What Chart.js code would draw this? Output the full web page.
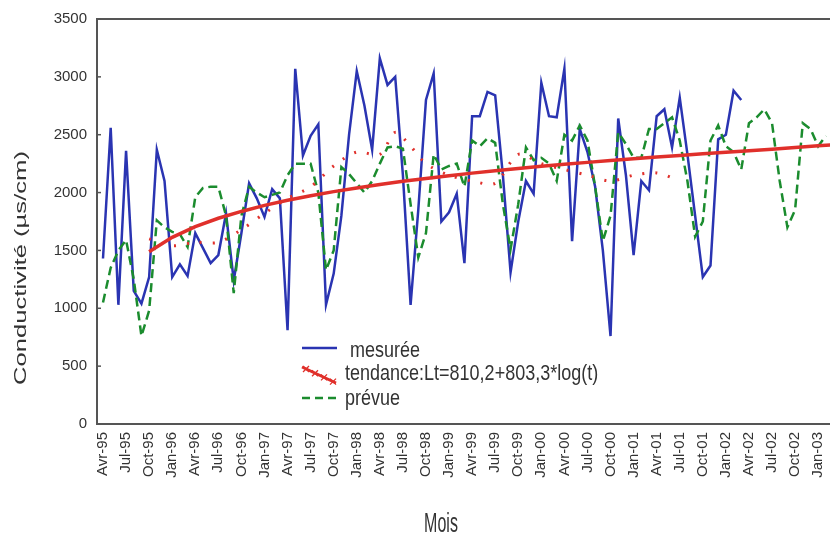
<!DOCTYPE html>
<html>
<head>
<meta charset="utf-8">
<script src="https://cdn.jsdelivr.net/npm/chart.js@4/dist/chart.umd.min.js"></script>
<style>
html,body{margin:0;padding:0;background:#fff;overflow:hidden}
#wrap{width:830px;height:541px;position:relative}
</style>
</head>
<body>
<div id="wrap"><canvas id="c"></canvas></div>
<script>
// ---- data (month index 0 = Avr-95) ----
const tickLabels = ['Avr-95','Jul-95','Oct-95','Jan-96','Avr-96','Jul-96','Oct-96','Jan-97','Avr-97','Jul-97','Oct-97','Jan-98','Avr-98','Jul-98','Oct-98','Jan-99','Avr-99','Jul-99','Oct-99','Jan-00','Avr-00','Jul-00','Oct-00','Jan-01','Avr-01','Jul-01','Oct-01','Jan-02','Avr-02','Jul-02','Oct-02','Jan-03'];
const yTicks = [0,500,1000,1500,2000,2500,3000,3500];

const measured = [1430,2560,1030,2360,1150,1040,1270,2370,2100,1270,
  1380,1280,1650,1520,1390,1460,1820,1240,1650,2080,
  1950,1790,2030,1950,810,3070,2320,2490,2590,1030,
  1300,1800,2500,3050,2750,2370,3160,2930,3000,2150,
  1030,1850,2800,3030,1750,1830,1990,1390,2660,2660,
  2870,2840,2150,1310,1750,2100,1990,2950,2660,2650,
  3070,1580,2550,2350,2050,1500,760,2640,2150,1460,
  2100,2020,2660,2720,2390,2820,2330,1800,1270,1370,
  2460,2500,2880,2800];

const forecast = [1050,1350,1500,1590,1250,760,980,1760,1700,1660,
  1640,1530,1960,2040,2050,2050,1800,1130,1800,2050,
  2000,1960,1980,2000,2150,2250,2250,2250,2000,1330,
  1500,2220,2160,2080,2000,2100,2250,2390,2400,2380,
  1900,1440,1650,2330,2200,2230,2250,2050,2450,2400,
  2470,2430,1900,1510,1900,2390,2280,2300,2250,2100,
  2500,2450,2580,2450,2050,1580,1800,2520,2420,2300,
  2300,2550,2550,2600,2650,2450,2100,1620,1750,2450,
  2580,2400,2350,2200,2600,2650,2720,2600,2100,1700,
  1850,2600,2550,2400,2490];

const trendMonths = [6,9,12,15,18,21,24,27,30,33,36,39,42,45,48,51,54,57,60,63,66,69,72,75,78,81,84,87,90,93,96];
const trendValues = [1489,1613,1705,1778,1837,1889,1933,1973,2008,2040,2070,2097,2122,2146,2168,2189,2208,2227,2244,2261,2277,2292,2307,2321,2335,2348,2362,2375,2390,2405,2418];

const seasonalMonths = [6,9,12,15,18,21,24,27,30,33,36,38,40,42,45,48,51,54,57,60,63,66,69,72,75];
const seasonalValues = [1600,1540,1570,1570,1680,1820,1950,2050,2230,2350,2330,2520,2400,2250,2150,2100,2080,2330,2250,2200,2150,2100,2150,2170,2100];

// ---- styles ----
const BLUE = '#2a34b2';
const GREEN = '#1b8c2e';
const RED = '#e0302b';
const TEXT = '#333333';
const FRAME = '#555555';
const FONT = '"Liberation Sans", Arial, sans-serif';

const pts = (xs, ys) => ys.map((v, k) => ({x: xs[k], y: v}));
const idx = arr => arr.map((_, i) => i);

const decor = {
  id: 'decor',
  afterDraw(chart) {
    const ctx = chart.ctx;
    const a = chart.chartArea;
    const ys = chart.scales.y;
    ctx.save();
    // top frame line
    ctx.strokeStyle = FRAME; ctx.lineWidth = 2;
    ctx.beginPath(); ctx.moveTo(a.left - 1, a.top); ctx.lineTo(a.right + 5, a.top); ctx.stroke();
    // inner tick marks on y axis
    ctx.lineWidth = 1.5;
    yTicks.forEach(v => {
      const y = ys.getPixelForValue(v);
      ctx.beginPath(); ctx.moveTo(a.left, y); ctx.lineTo(a.left + 4, y); ctx.stroke();
    });
    ctx.fillStyle = TEXT;
    // y axis title
    ctx.save();
    ctx.translate(22, 268); ctx.rotate(-Math.PI / 2); ctx.scale(1.6, 1);
    ctx.font = '16px ' + FONT; ctx.textAlign = 'center'; ctx.textBaseline = 'middle';
    ctx.fillText('Conductivité (µs/cm)', 0, 0);
    ctx.restore();
    // x axis title
    ctx.save();
    ctx.translate(441, 525); ctx.scale(1, 1.7);
    ctx.font = '16px ' + FONT; ctx.textAlign = 'center'; ctx.textBaseline = 'middle';
    ctx.fillText('Mois', 0, 0);
    ctx.restore();
    // legend
    ctx.lineCap = 'butt';
    ctx.strokeStyle = BLUE; ctx.lineWidth = 2.5; ctx.setLineDash([]);
    ctx.beginPath(); ctx.moveTo(302, 348); ctx.lineTo(337, 348); ctx.stroke();
    ctx.strokeStyle = RED; ctx.lineWidth = 3;
    ctx.beginPath(); ctx.moveTo(302, 367); ctx.lineTo(336, 383); ctx.stroke();
    ctx.lineWidth = 1.3;
    for (let k = 0; k < 4; k++) {
      const cx = 306 + k * 9, cy = 369 + k * 4.2;
      ctx.beginPath(); ctx.moveTo(cx - 3, cy - 3); ctx.lineTo(cx + 3, cy + 3);
      ctx.moveTo(cx - 3, cy + 3); ctx.lineTo(cx + 3, cy - 3); ctx.stroke();
    }
    ctx.strokeStyle = GREEN; ctx.lineWidth = 2.5; ctx.setLineDash([8, 5]);
    ctx.beginPath(); ctx.moveTo(302, 398); ctx.lineTo(340, 398); ctx.stroke();
    ctx.setLineDash([]);
    const txt = (s, x, y) => {
      ctx.save(); ctx.translate(x, y); ctx.scale(1, 1.2);
      ctx.font = '18px ' + FONT; ctx.textAlign = 'left'; ctx.textBaseline = 'middle';
      ctx.fillText(s, 0, 0); ctx.restore();
    };
    txt('mesurée', 350, 351);
    txt('tendance:Lt=810,2+803,3*log(t)', 345, 374);
    txt('prévue', 345, 399);
    ctx.restore();
  }
};

new Chart(document.getElementById('c'), {
  type: 'line',
  data: {
    datasets: [
      {label: 'tendance', data: pts(trendMonths, trendValues), borderColor: RED, borderWidth: 3.5, pointRadius: 0, tension: 0},
      {label: 'tendance (saison)', data: pts(seasonalMonths, seasonalValues), borderColor: RED, borderWidth: 3, borderDash: [2, 11], pointRadius: 0, tension: 0.3},
      {label: 'prévue', data: pts(idx(forecast), forecast), borderColor: GREEN, borderWidth: 2.5, borderDash: [9, 5], pointRadius: 0, tension: 0},
      {label: 'mesurée', data: pts(idx(measured), measured), borderColor: BLUE, borderWidth: 2.5, pointRadius: 0, tension: 0}
    ]
  },
  options: {
    responsive: true,
    maintainAspectRatio: false,
    animation: false,
    events: [],
    layout: {padding: {top: 18, left: 0, right: 0, bottom: 0}},
    plugins: {legend: {display: false}, tooltip: {enabled: false}},
    scales: {
      x: {
        type: 'linear',
        min: -0.78,
        max: 94.54,
        afterBuildTicks: s => { s.ticks = tickLabels.map((_, k) => ({value: k * 3})); },
        afterFit: s => { s.height = 117; s.paddingLeft = 0; s.paddingRight = 0; },
        grid: {display: false, drawTicks: false},
        border: {display: true, color: FRAME, width: 2},
        ticks: {
          autoSkip: false, minRotation: 90, maxRotation: 90, padding: 8,
          color: TEXT, font: {family: FONT, size: 15},
          callback: v => tickLabels[Math.round(v / 3)]
        }
      },
      y: {
        min: 0, max: 3500,
        afterFit: s => { s.width = 97; },
        grid: {display: false, drawTicks: false},
        border: {display: true, color: FRAME, width: 2},
        ticks: {stepSize: 500, padding: 10, color: TEXT, font: {family: FONT, size: 15},
          callback: v => String(v)}
      }
    }
  },
  plugins: [decor]
});
</script>
</body>
</html>
